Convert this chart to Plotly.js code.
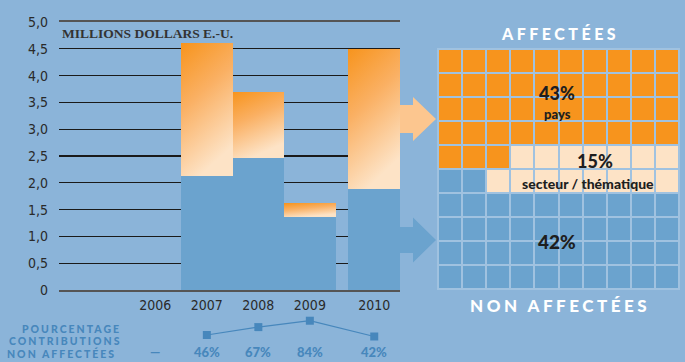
<!DOCTYPE html>
<html><head><meta charset="utf-8">
<script src="https://cdn.plot.ly/plotly-3.0.1.min.js"></script>
<style>
html,body{margin:0;padding:0;background:#8BB4D9;}
#chart{width:685px;height:362px;}
text.annotation-text[data-unformatted="AFFECTÉES"]{letter-spacing:3.5px;}
text.annotation-text[data-unformatted="NON AFFECTÉES"]{letter-spacing:3.5px;}
text.annotation-text[data-unformatted="POURCENTAGE"],
text.annotation-text[data-unformatted="CONTRIBUTIONS"],
text.annotation-text[data-unformatted="NON AFFECTÉES "]{letter-spacing:2px;}
</style></head><body><div id="chart"></div>
<script>
// ---- data ----
const years = [2006, 2007, 2008, 2009, 2010];
const yearLabels = ['2006', '2007', '2008', '2009', '2010'];
const nonAffectees = [null, 2.12, 2.46, 1.36, 1.88];   // millions USD
const affectees = [null, 2.48, 1.23, 0.26, 2.62];      // millions USD
const pctNonAffectees = [null, 46, 67, 84, 42];
const pctLabels = ['—', '46%', '67%', '84%', '42%'];
const yTickVals = [0, 0.5, 1, 1.5, 2, 2.5, 3, 3.5, 4, 4.5, 5];
const yTickText = ['0', '0,5', '1,0', '1,5', '2,0', '2,5', '3,0', '3,5', '4,0', '4,5', '5,0'];
const shareNames = ['pays', 'secteur / thématique', 'non affectées'];
const shareValues = [43, 15, 42];
const shareLabels = ['43%', '15%', '42%'];

// ---- styling ----
const BG = '#8BB4D9', BLUE = '#6BA3CE', ORANGE = '#F7941D', PEACH = '#FDE3C6', TXTBLUE = '#4787BC';
const W = 685, H = 362;
const px = v => v / W, py = v => 1 - v / H;
// 2010 column is drawn after a small gap
const pos = years.map((y, i) => i === years.length - 1 ? y + 0.25 : y);

// waffle grid: orange fills from the top-left, blue from the bottom rows, peach in between
const z = [];
for (let r = 0; r < 10; r++) {
  const row = [];
  for (let c = 0; c < 10; c++) {
    const kTop = r * 10 + c;
    const kBottom = (9 - r) * 10 + c;
    row.push(kTop < shareValues[0] ? 0 : (kBottom < shareValues[2] ? 2 : 1));
  }
  z.push(row);
}

const traces = [
  {type: 'bar', x: pos, y: nonAffectees, width: 1, marker: {color: BLUE, line: {width: 0}},
   name: 'non affectées', hoverinfo: 'skip', xaxis: 'x', yaxis: 'y'},
  {type: 'bar', x: pos, y: affectees, width: 1, marker: {color: '#FAB567', line: {width: 0}},
   name: 'affectées', hoverinfo: 'skip', xaxis: 'x', yaxis: 'y'},
  {type: 'scatter', mode: 'lines+markers', x: pos, y: pctNonAffectees, xaxis: 'x', yaxis: 'y2',
   line: {color: TXTBLUE, width: 1.2}, marker: {symbol: 'square', size: 8, color: TXTBLUE},
   hoverinfo: 'skip', connectgaps: false},
  {type: 'heatmap', z: z, xaxis: 'x3', yaxis: 'y3', zmin: 0, zmax: 2, showscale: false,
   xgap: 2, ygap: 2, hoverinfo: 'skip',
   colorscale: [[0, ORANGE], [0.333, ORANGE], [0.334, PEACH], [0.666, PEACH], [0.667, BLUE], [1, BLUE]]}
];

function arrow(x0, xh, xt, yc, bh, hh) {
  return `M${px(x0)},${py(yc - bh)} L${px(xh)},${py(yc - bh)} L${px(xh)},${py(yc - hh)} L${px(xt)},${py(yc)} ` +
         `L${px(xh)},${py(yc + hh)} L${px(xh)},${py(yc + bh)} L${px(x0)},${py(yc + bh)} Z`;
}

const darkFont = {family: 'Liberation Sans Narrow, DejaVu Sans Condensed, sans-serif', size: 14, color: '#2a2a2a'};
const heavy = (s, c) => ({family: 'Lato, Open Sans, sans-serif', size: s, color: c || '#1e1e1e', weight: 900});

const annotations = [
  {text: 'MILLIONS DOLLARS E.-U.', xref: 'paper', yref: 'paper', x: px(60), y: py(34), xanchor: 'left', yanchor: 'middle',
   showarrow: false, font: {family: 'Liberation Serif, serif', size: 13.5, color: '#333', weight: 700}},
  {text: 'AFFECTÉES', xref: 'paper', yref: 'paper', x: px(560), y: py(33), xanchor: 'center', yanchor: 'middle',
   showarrow: false, font: heavy(16, '#ffffff')},
  {text: 'NON AFFECTÉES', xref: 'paper', yref: 'paper', x: px(560), y: py(305), xanchor: 'center', yanchor: 'middle',
   showarrow: false, font: heavy(17, '#ffffff')},
  {text: shareLabels[0], xref: 'paper', yref: 'paper', x: px(557), y: py(92.5), xanchor: 'center', yanchor: 'middle',
   showarrow: false, font: heavy(18)},
  {text: shareNames[0], xref: 'paper', yref: 'paper', x: px(557), y: py(114), xanchor: 'center', yanchor: 'middle',
   showarrow: false, font: heavy(13)},
  {text: shareLabels[1], xref: 'paper', yref: 'paper', x: px(595), y: py(161), xanchor: 'center', yanchor: 'middle',
   showarrow: false, font: heavy(18)},
  {text: shareNames[1], xref: 'paper', yref: 'paper', x: px(588), y: py(183), xanchor: 'center', yanchor: 'middle',
   showarrow: false, font: heavy(14)},
  {text: shareLabels[2], xref: 'paper', yref: 'paper', x: px(557), y: py(241), xanchor: 'center', yanchor: 'middle',
   showarrow: false, font: heavy(19)},
  {text: 'POURCENTAGE', xref: 'paper', yref: 'paper', x: px(123), y: py(329), xanchor: 'right', yanchor: 'middle',
   align: 'right', showarrow: false, font: heavy(10.5, TXTBLUE)},
  {text: 'CONTRIBUTIONS', xref: 'paper', yref: 'paper', x: px(123), y: py(341), xanchor: 'right', yanchor: 'middle',
   align: 'right', showarrow: false, font: heavy(10.5, TXTBLUE)},
  {text: 'NON AFFECTÉES ', xref: 'paper', yref: 'paper', x: px(123), y: py(353), xanchor: 'right', yanchor: 'middle',
   align: 'right', showarrow: false, font: heavy(10.5, TXTBLUE)}
];
pctLabels.forEach((t, i) => annotations.push({
  text: t, xref: 'x', yref: 'paper', x: pos[i], y: py(352), xanchor: 'center', yanchor: 'middle',
  showarrow: false, font: heavy(13, TXTBLUE)
}));

const layout = {
  width: W, height: H, autosize: false,
  margin: {l: 0, r: 0, t: 0, b: 0, pad: 0},
  paper_bgcolor: BG, plot_bgcolor: 'rgba(0,0,0,0)',
  showlegend: false, barmode: 'stack', bargap: 0,
  xaxis: {domain: [px(59), px(400)], range: [2004.13, 2010.75], tickvals: pos, ticktext: yearLabels,
          showgrid: false, zeroline: false, showline: true, linecolor: '#555', linewidth: 2, mirror: true,
          ticks: '', tickfont: darkFont, anchor: 'y', fixedrange: true, ticklabelstandoff: 1},
  yaxis: {domain: [1 - 290 / H, 1 - 22 / H], range: [0, 5], tickvals: yTickVals, ticktext: yTickText,
          showgrid: true, gridcolor: '#1a1a1a', gridwidth: 1.3, zeroline: false, showline: false,
          ticks: '', tickfont: darkFont, anchor: 'x', ticklabelstandoff: 10, fixedrange: true},
  yaxis2: {domain: [1 - 345 / H, 1 - 310 / H], range: [19.4, 112.5], visible: false, anchor: 'x'},
  xaxis3: {domain: [px(438), px(679)], range: [-0.5, 9.5], visible: false, anchor: 'y3'},
  yaxis3: {domain: [1 - 289 / H, 1 - 49 / H], range: [9.5, -0.5], visible: false, anchor: 'x3'},
  annotations: annotations,
  shapes: [
    {type: 'rect', xref: 'paper', yref: 'paper', x0: px(437), x1: px(680), y0: py(290), y1: py(48),
     fillcolor: '#A0C2E0', line: {width: 0}, layer: 'below'},
    {type: 'path', xref: 'paper', yref: 'paper', path: arrow(400, 413, 436, 119, 14, 22),
     fillcolor: '#FCC68F', line: {width: 0}, layer: 'below'},
    {type: 'path', xref: 'paper', yref: 'paper', path: arrow(400, 413, 436, 240, 13, 22.5),
     fillcolor: BLUE, line: {width: 0}, layer: 'below'}
  ]
};

Plotly.newPlot('chart', traces, layout, {staticPlot: true, displayModeBar: false}).then(gd => {
  const svg = gd.querySelector('.main-svg');
  let defs = svg.querySelector('defs');
  const ns = 'http://www.w3.org/2000/svg';
  const grad = document.createElementNS(ns, 'linearGradient');
  grad.setAttribute('id', 'orangeGrad');
  grad.setAttribute('x1', '0'); grad.setAttribute('y1', '0');
  grad.setAttribute('x2', '0.35'); grad.setAttribute('y2', '1');
  [['0', ORANGE], ['0.45', '#FAB063'], ['1', '#FDE3C6']].forEach(([o, c]) => {
    const s = document.createElementNS(ns, 'stop');
    s.setAttribute('offset', o); s.setAttribute('stop-color', c);
    grad.appendChild(s);
  });
  defs.appendChild(grad);
  const barTraces = gd.querySelectorAll('.barlayer .trace');
  if (barTraces[1]) barTraces[1].querySelectorAll('path').forEach(p => { p.style.fill = 'url(#orangeGrad)'; });
});
</script></body></html>
